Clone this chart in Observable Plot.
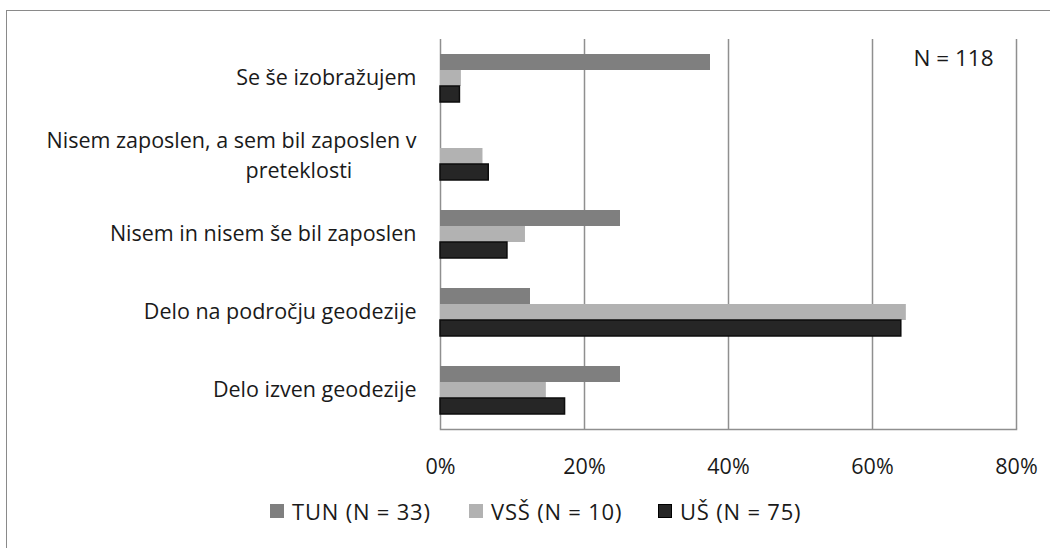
<!DOCTYPE html>
<html>
<head>
<meta charset="utf-8">
<script src="https://cdn.jsdelivr.net/npm/d3@7"></script>
<script src="https://cdn.jsdelivr.net/npm/@observablehq/plot@0.6"></script>
<style>
  html, body { margin: 0; padding: 0; background: #fff; overflow: hidden; }
  #wrap { position: relative; width: 1050px; height: 548px; font-family: "Open Sans", sans-serif; color: #1a1a1a; }
  #frame { position: absolute; left: 6px; top: 10px; width: 1100px; height: 600px; border-left: 1.5px solid #8a8a8a; border-top: 1.5px solid #8a8a8a; pointer-events: none; }
  #chart { position: absolute; left: 0; top: 0; }
  #legend { position: absolute; top: 496px; left: 270px; display: flex; align-items: center; font-size: 22px; letter-spacing: 0.8px; white-space: nowrap; }
  .item { display: flex; align-items: center; }
  .sw { width: 14px; height: 14px; margin-right: 8px; box-sizing: border-box; flex: none; }
</style>
</head>
<body>
<div id="wrap">
  <div id="frame"></div>
  <div id="chart"></div>
  <div id="legend"></div>
</div>
<script>
const categories = ["Se še izobražujem", "Nisem zaposlen, a sem bil zaposlen v preteklosti", "Nisem in nisem še bil zaposlen", "Delo na področju geodezije", "Delo izven geodezije"];
const labelLines = [["Se še izobražujem"], ["Nisem zaposlen, a sem bil zaposlen v", "preteklosti"], ["Nisem in nisem še bil zaposlen"], ["Delo na področju geodezije"], ["Delo izven geodezije"]];
const series = ["TUN (N = 33)", "VSŠ (N = 10)", "UŠ (N = 75)"];
const tunValues = [37.5, 0, 25.0, 12.5, 25.0];
const vssValues = [2.9, 5.9, 11.8, 64.7, 14.7];
const usValues = [2.7, 6.7, 9.3, 64.0, 17.3];
const xTicks = [0, 20, 40, 60, 80];
const seriesColors = ["#7f7f7f", "#b2b2b2", "#262626"];
const totalLabel = "N = 118";

const valueArrays = [tunValues, vssValues, usValues];
const data = [];
categories.forEach((c, i) => {
  series.forEach((s, j) => data.push({category: c, series: s, value: valueArrays[j][i]}));
});
const labelData = categories.map((c, i) => ({category: c, lines: labelLines[i]}));
const single = labelData.filter(d => d.lines.length === 1);
const multi = labelData.filter(d => d.lines.length > 1);

const font = "'Open Sans', sans-serif";
const fs = 21.5;
const ink = "#1a1a1a";
const chart = Plot.plot({
  width: 1050,
  height: 480,
  marginLeft: 440,
  marginRight: 34,
  marginTop: 38,
  marginBottom: 51,
  style: {fontFamily: font, fontSize: fs + "px", color: ink, background: "transparent", overflow: "visible"},
  x: {domain: [0, 80], label: null},
  fy: {domain: categories, padding: 0, axis: null, label: null},
  y: {domain: series, paddingInner: 0, paddingOuter: 0.9, axis: null, label: null},
  color: {domain: series, range: seriesColors},
  marks: [
    Plot.gridX(xTicks, {stroke: "#8f8f8f", strokeOpacity: 1, strokeWidth: 1.5}),
    Plot.barX(data, {x: "value", y: "series", fy: "category", fill: "series"}),
    Plot.barX(data.filter(d => d.series === series[2]), {x: "value", y: "series", fy: "category", fill: "series", stroke: "#0d0d0d", strokeWidth: 1.5}),
    Plot.frame({anchor: "bottom", facetAnchor: "bottom", stroke: "#8f8f8f", strokeWidth: 1.5}),
    Plot.axisX({ticks: xTicks, tickFormat: d => d + "%", tickSize: 0, tickPadding: 29, fontSize: fs, fill: ink, label: null}),
    Plot.text(single, {fy: "category", text: d => d.lines[0], frameAnchor: "left", textAnchor: "end", dx: -24, fontSize: fs, fill: ink}),
    Plot.text(multi, {fy: "category", text: d => d.lines[0], frameAnchor: "left", textAnchor: "end", dx: -24, dy: -15, fontSize: fs, fill: ink}),
    Plot.text(multi, {fy: "category", text: d => d.lines[1], frameAnchor: "left", textAnchor: "start", dx: -195, dy: 15, fontSize: fs, fill: ink}),
    Plot.text([{category: categories[0], label: totalLabel}], {fy: "category", text: "label", frameAnchor: "top-right", textAnchor: "end", lineAnchor: "middle", dx: -23, dy: 19, fontSize: 22.5, fill: ink})
  ]
});
document.getElementById("chart").appendChild(chart);

const legend = document.getElementById("legend");
const itemWidths = [199, 189, null];
series.forEach((s, j) => {
  const item = document.createElement("div");
  item.className = "item";
  if (itemWidths[j]) item.style.width = itemWidths[j] + "px";
  const sw = document.createElement("span");
  sw.className = "sw";
  sw.style.background = seriesColors[j];
  if (j === 2) sw.style.border = "1.5px solid #000";
  const t = document.createElement("span");
  t.textContent = s;
  item.appendChild(sw);
  item.appendChild(t);
  legend.appendChild(item);
});
</script>
</body>
</html>
